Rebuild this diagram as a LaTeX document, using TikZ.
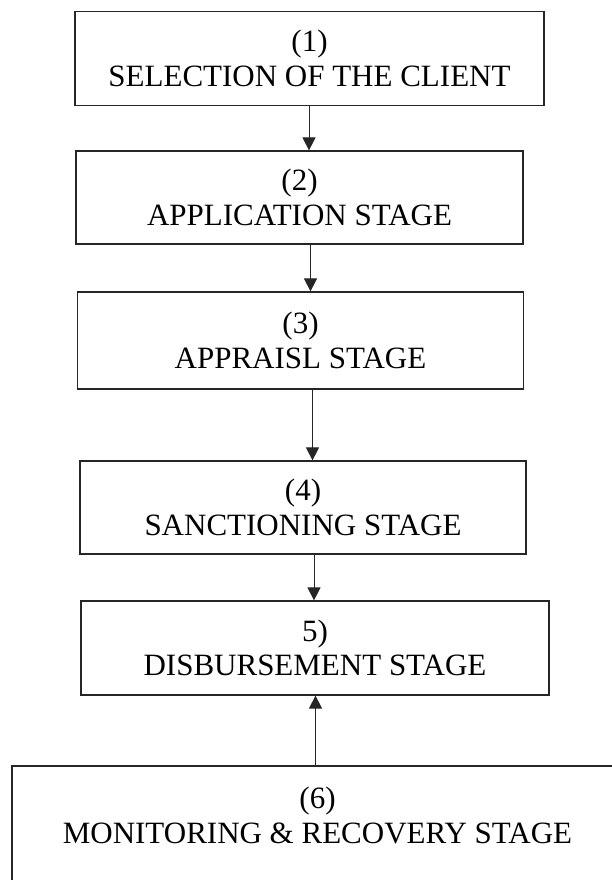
\documentclass[tikz,border=0pt]{standalone}
\usepackage{fontspec}
\setmainfont{Liberation Serif}
\usetikzlibrary{arrows.meta}
\begin{document}
\begin{tikzpicture}[x=1pt,y=1pt,
  stagebox/.style={draw=black!85, line width=1.2pt, rectangle, inner sep=0pt,
    align=center, font=\fontsize{31}{34.5}\selectfont},
  flow/.style={draw=black!85, line width=1pt,
    -{Triangle[length=13pt,width=13pt]}},
]
\useasboundingbox (0,0) rectangle (612,-880);
\clip (0,0) rectangle (612,-880);

% stage boxes
\node[stagebox, minimum width=469, minimum height=94] (s1) at (309.5,-58.5)
  {(1)\\SELECTION OF THE CLIENT};
\node[stagebox, minimum width=447, minimum height=93] (s2) at (299.5,-197.5)
  {(2)\\APPLICATION STAGE};
\node[stagebox, minimum width=446, minimum height=97] (s3) at (300.5,-340.5)
  {(3)\\APPRAISL STAGE};
\node[stagebox, minimum width=446, minimum height=93] (s4) at (303,-507.5)
  {(4)\\SANCTIONING STAGE};
\node[stagebox, minimum width=468, minimum height=94] (s5) at (315,-648)
  {5)\\DISBURSEMENT STAGE};
\node[stagebox, minimum width=611, minimum height=194] (s6) at (317.5,-863) {};
\node[align=center, inner sep=0pt, font=\fontsize{31}{34.5}\selectfont]
  (s6text) at (317.5,-815.5) {(6)\\MONITORING \& RECOVERY STAGE};

% connectors
\draw[flow] (309,0 |- s1.south) -- (309,0 |- s2.north);
\draw[flow] (310.5,0 |- s2.south) -- (310.5,0 |- s3.north);
\draw[flow] (312.5,0 |- s3.south) -- (312.5,0 |- s4.north);
\draw[flow] (314,0 |- s4.south) -- (314,0 |- s5.north);
\draw[flow] (315.5,0 |- s6.north) -- (315.5,0 |- s5.south);
\end{tikzpicture}
\end{document}
